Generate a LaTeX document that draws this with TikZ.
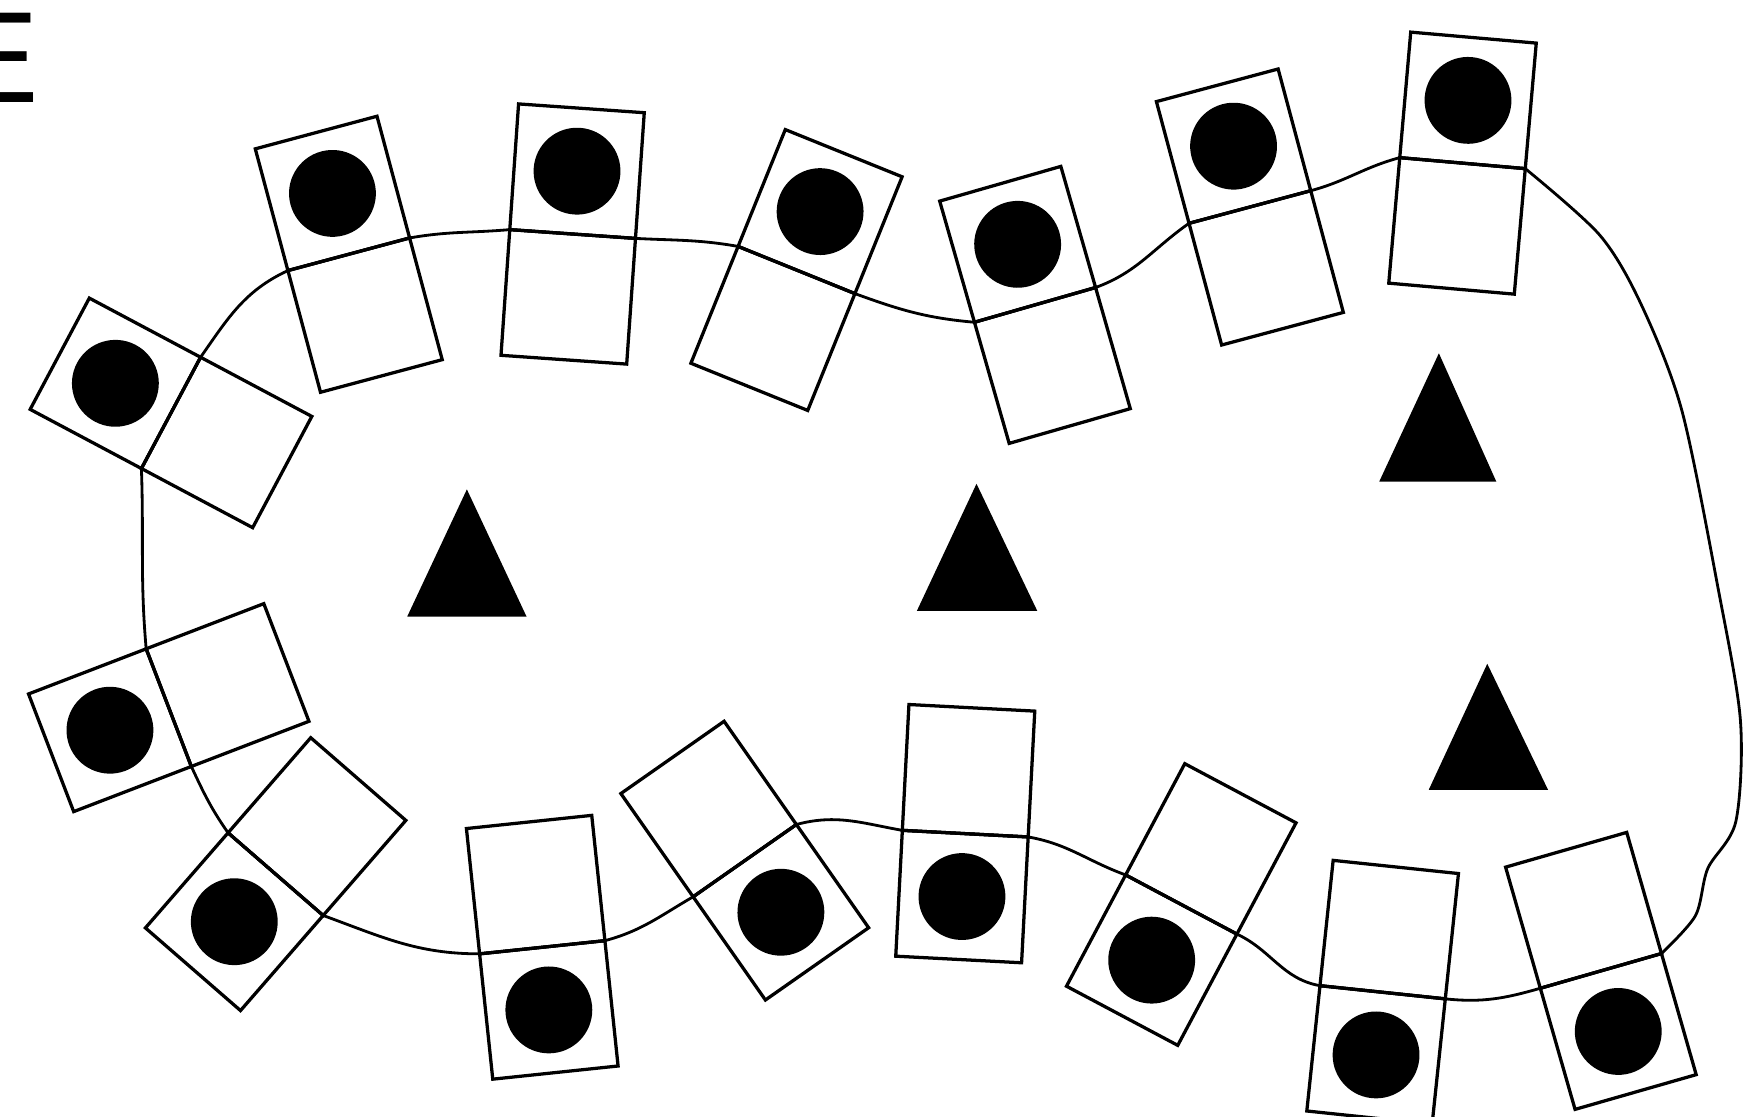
\documentclass[tikz,border=0pt]{standalone}
\usepackage{fontspec}
\newfontfamily\labfont{Liberation Sans}
\begin{document}
\begin{tikzpicture}[x=0.5pt,y=0.5pt]
\tikzset{
  sq/.style={draw=black, line width=1.45pt, line join=miter},
  dot/.style={fill=black},
  mem/.style={draw=black, line width=1.25pt, line cap=round, line join=round},
  tri/.style={fill=black}
}
\useasboundingbox (0,0) rectangle (1568,-992);
% panel label, partly outside the page
\node[anchor=base west, inner sep=0pt, font=\fontsize{57.7}{60}\selectfont\labfont] (lab) at (-43,-91.5) {E};
% units: shared-edge midpoint, angle of shared edge
\foreach \n/\x/\y/\a in {1/152/367/62, 2/310/226/15, 3/509/208/-4, 4/708/240/-22, 5/920/271/16, 6/1111/184/15, 7/1300/145/-5, 8/1423/863/196, 9/1229/882/174, 10/1050/804/152, 11/858/741/177, 12/662/765/215, 13/482/842/186, 14/245/777/139, 15/150/629/111}{
  \begin{scope}[shift={(\x,-\y)}, rotate=\a]
    \draw[sq] (-56,0) rectangle (56,112);
    \draw[sq] (-56,0) rectangle (56,-112);
    \fill[dot] (0,56) circle[radius=19.3pt];
    \coordinate (u\n a) at (-56,0);
    \coordinate (u\n b) at (56,0);
  \end{scope}
}
% membrane
\draw[mem] (u1a) -- (u1b) to[out=55,in=205] (u2a) -- (u2b) to[out=10,in=185] (u3a) -- (u3b) to[out=-3,in=170] (u4a) -- (u4b) to[out=-20,in=175] (u5a) -- (u5b) to[out=20,in=215] (u6a) -- (u6b) to[out=15,in=195] (u7a) -- (u7b);
\coordinate (r1) at (1422,-209);
\coordinate (r2) at (1459,-271);
\coordinate (r3) at (1495,-365);
\coordinate (r4) at (1527,-522);
\coordinate (r5) at (1547,-640);
\coordinate (r6) at (1543,-730);
\coordinate (r7) at (1518,-772);
\coordinate (r8) at (1507,-814);
\draw[mem] plot[smooth, tension=0.5] coordinates {(u7b) (r1) (r2) (r3) (r4) (r5) (r6) (r7) (r8) (u8a)};
\draw[mem] (u8a) -- (u8b) to[out=196,in=-6] (u9a) -- (u9b) to[out=170,in=-25] (u10a) -- (u10b) to[out=160,in=-10] (u11a) -- (u11b) to[out=170,in=15] (u12a) -- (u12b) to[out=210,in=15] (u13a) -- (u13b) to[out=180,in=-20] (u14a) -- (u14b) to[out=125,in=-65] (u15a) -- (u15b) to[out=95,in=-88] (u1a);
% triangles
\fill[tri] (415,-435) -- (468,-548) -- (362,-548) -- cycle;
\fill[tri] (868,-430) -- (922,-543) -- (815,-543) -- cycle;
\fill[tri] (1279,-314) -- (1330,-428) -- (1226,-428) -- cycle;
\fill[tri] (1322,-590) -- (1376,-702) -- (1270,-702) -- cycle;
\end{tikzpicture}
\end{document}
